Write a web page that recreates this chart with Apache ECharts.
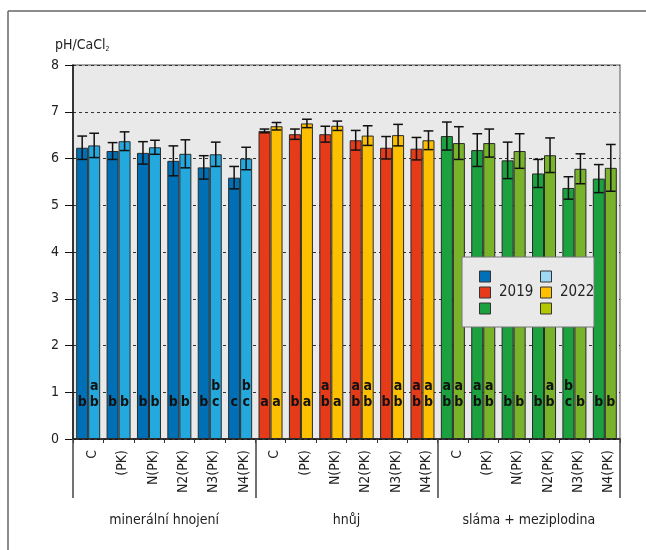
<!DOCTYPE html>
<html><head><meta charset="utf-8">
<script src="https://cdn.jsdelivr.net/npm/echarts@6/dist/echarts.min.js"></script>
<style>html,body{margin:0;padding:0;background:#fff}#c{width:646px;height:550px}</style>
</head><body><div id="c"></div>
<script>
var categories = ['C','(PK)','N(PK)','N2(PK)','N3(PK)','N4(PK)','C','(PK)','N(PK)','N2(PK)','N3(PK)','N4(PK)','C','(PK)','N(PK)','N2(PK)','N3(PK)','N4(PK)'];
var groups = ['minerální hnojení','hnůj','sláma + meziplodina'];
var yTicks = [0,1,2,3,4,5,6,7,8];
var v2019 = [6.23,6.16,6.12,5.95,5.81,5.59, 6.59,6.52,6.52,6.39,6.23,6.21, 6.48,6.18,5.96,5.68,5.37,5.57];
var e2019 = [0.25,0.18,0.24,0.32,0.25,0.24, 0.04,0.11,0.17,0.21,0.24,0.24, 0.30,0.35,0.39,0.30,0.24,0.30];
var v2022 = [6.28,6.37,6.24,6.10,6.09,6.00, 6.69,6.75,6.70,6.49,6.50,6.39, 6.33,6.33,6.16,6.07,5.78,5.80];
var e2022 = [0.26,0.20,0.15,0.30,0.26,0.24, 0.08,0.09,0.10,0.21,0.23,0.20, 0.35,0.30,0.37,0.37,0.32,0.50];
var l2019 = ['b','b','b','b','b','c', 'a','b','ab','ab','b','ab', 'ab','ab','b','b','bc','b'];
var l2022 = ['ab','b','b','b','bc','bc', 'a','a','a','ab','ab','ab', 'ab','ab','b','ab','b','b'];
var c2019 = ['#0070b6','#e63b19','#1ba23f'];
var c2022 = ['#24a9de','#fcc000','#79b32a'];
var legend2019 = ['#0070b8','#e63a1a','#1ba23e'];
var legend2022 = ['#9ed8f2','#ffc000','#b4c800'];

var FONT = '"DejaVu Sans Condensed", "Liberation Sans", Arial, sans-serif';
var CATGAP = 0.21;

function barData(vals, cols) {
  return vals.map(function (v, i) {
    return { value: v, itemStyle: { color: cols[Math.floor(i / 6)] } };
  });
}
function errData(vals, errs) {
  return vals.map(function (v, i) { return [i, v, errs[i]]; });
}
function errRender(sign) {
  return function (params, api) {
    var i = api.value(0), v = api.value(1), e = api.value(2);
    var band = api.size([1, 0])[0];
    var x = api.coord([i, v])[0] + sign * band * (1 - CATGAP) / 4;
    var yt = api.coord([i, v + e])[1], yb = api.coord([i, v - e])[1];
    var hw = band * 0.16;
    var st = { stroke: '#111', lineWidth: 1.5 };
    return { type: 'group', children: [
      { type: 'line', shape: { x1: x, y1: yt, x2: x, y2: yb }, style: st },
      { type: 'line', shape: { x1: x - hw, y1: yt, x2: x + hw, y2: yt }, style: st },
      { type: 'line', shape: { x1: x - hw, y1: yb, x2: x + hw, y2: yb }, style: st }
    ]};
  };
}
function letterLabel(arr) {
  return {
    show: true, position: 'insideBottom', distance: 29,
    formatter: function (p) { return arr[p.dataIndex].split('').join('\n'); },
    color: '#111', fontSize: 14, lineHeight: 16, fontFamily: FONT, fontWeight: 'bold'
  };
}

var legendChildren = [
  { type: 'rect', z: 100, shape: { x: 462, y: 257, width: 132, height: 70 }, style: { fill: '#e9e9e9', stroke: '#777', lineWidth: 1 } },
  { type: 'text', z: 101, style: { x: 499, y: 292, text: '2019', fill: '#222', font: '15px ' + FONT, verticalAlign: 'middle' } },
  { type: 'text', z: 101, style: { x: 560, y: 292, text: '2022', fill: '#222', font: '15px ' + FONT, verticalAlign: 'middle' } }
];
for (var k = 0; k < 3; k++) {
  legendChildren.push({ type: 'rect', z: 101, shape: { x: 479.5, y: 271 + k * 16, width: 11, height: 11 }, style: { fill: legend2019[k], stroke: '#333', lineWidth: 1 } });
  legendChildren.push({ type: 'rect', z: 101, shape: { x: 540.5, y: 271 + k * 16, width: 11, height: 11 }, style: { fill: legend2022[k], stroke: '#333', lineWidth: 1 } });
}

var chart = echarts.init(document.getElementById('c'), null, { renderer: 'canvas' });
chart.setOption({
  animation: false,
  backgroundColor: '#fff',
  textStyle: { fontFamily: FONT },
  grid: { left: 73, right: 26, top: 65, bottom: 111, show: true, backgroundColor: '#e9e9e9', borderColor: '#8a8a8a', borderWidth: 1.5 },
  xAxis: [{
    type: 'category', data: categories, position: 'bottom',
    axisLine: { show: true, lineStyle: { color: '#111', width: 1.5 } },
    axisTick: { show: true, length: 4, lineStyle: { color: '#333' } },
    axisLabel: { rotate: 90, margin: 11, fontSize: 14, color: '#222', fontFamily: FONT, verticalAlign: 'top', lineHeight: 8 },
    splitLine: { show: false }
  }, {
    type: 'category', data: groups, position: 'bottom',
    axisLine: { show: false },
    axisTick: { show: true, length: 59, lineStyle: { color: '#444', width: 1.5 } },
    axisLabel: { margin: 74, fontSize: 14, color: '#222', fontFamily: FONT },
    splitLine: { show: false }
  }],
  yAxis: {
    type: 'value', min: yTicks[0], max: yTicks[yTicks.length - 1], interval: 1,
    name: '{a|pH/CaCl}{s|2}', nameLocation: 'end', nameGap: 12,
    nameTextStyle: { align: 'left', padding: [0, 0, 0, -18],
      rich: { a: { fontSize: 14, color: '#222', fontFamily: FONT, lineHeight: 16 },
              s: { fontSize: 7, color: '#222', fontFamily: FONT, lineHeight: 15, verticalAlign: 'bottom' } } },
    axisLine: { show: true, lineStyle: { color: '#111', width: 1.5 } },
    axisTick: { show: true, length: 8, lineStyle: { color: '#111' } },
    axisLabel: { fontSize: 14, color: '#222', margin: 14, fontFamily: FONT },
    splitLine: { show: true, lineStyle: { color: '#333', type: [3, 3], width: 1 } }
  },
  series: [
    { name: '2019', type: 'bar', data: barData(v2019, c2019), barGap: '0%', barCategoryGap: (CATGAP * 100) + '%',
      itemStyle: { borderColor: '#2a2a2a', borderWidth: 1 }, label: letterLabel(l2019), z: 2 },
    { name: '2022', type: 'bar', data: barData(v2022, c2022), barGap: '0%', barCategoryGap: (CATGAP * 100) + '%',
      itemStyle: { borderColor: '#2a2a2a', borderWidth: 1 }, label: letterLabel(l2022), z: 2 },
    { type: 'custom', data: errData(v2019, e2019), renderItem: errRender(-1), encode: { x: 0, y: 1 }, z: 5 },
    { type: 'custom', data: errData(v2022, e2022), renderItem: errRender(1), encode: { x: 0, y: 1 }, z: 5 }
  ],
  graphic: {
    elements: [
      { type: 'line', shape: { x1: 8, y1: 11, x2: 646, y2: 11 }, style: { stroke: '#666', lineWidth: 1.5 } },
      { type: 'line', shape: { x1: 8, y1: 11, x2: 8, y2: 550 }, style: { stroke: '#666', lineWidth: 1.5 } },
      { type: 'group', z: 100, children: legendChildren }
    ]
  }
});
</script></body></html>
